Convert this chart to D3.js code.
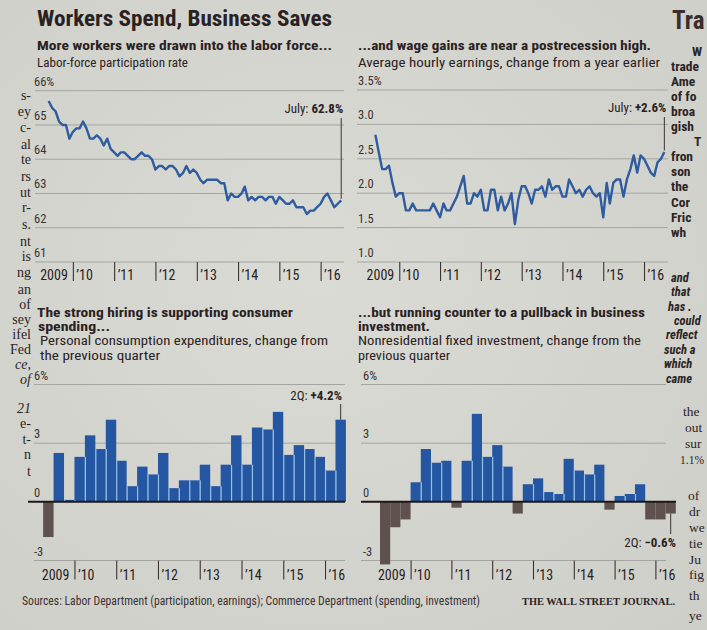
<!DOCTYPE html>
<html><head><meta charset="utf-8">
<script src="https://cdn.jsdelivr.net/npm/d3@7"></script>
<style>
html,body{margin:0;padding:0;background:#d6d6d1;}
svg{display:block;}
</style></head><body>
<svg id="chart" width="707" height="630"></svg>
<script>
// Labor-force participation rate (%), monthly from June 2009 to July 2016
const participation = [
  65.7, 65.5, 65.4, 65.1, 65.0, 65.0, 64.6,
  64.8, 64.9, 64.9, 65.1, 64.9, 64.6, 64.6, 64.7, 64.6, 64.4, 64.6, 64.3,
  64.2, 64.1, 64.2, 64.2, 64.1, 64.0, 64.0, 64.1, 64.2, 64.1, 64.1, 64.0,
  63.7, 63.8, 63.8, 63.7, 63.8, 63.8, 63.7, 63.5, 63.6, 63.8, 63.6, 63.7,
  63.6, 63.4, 63.3, 63.4, 63.4, 63.4, 63.4, 63.3, 63.3, 62.8, 63.0, 62.9,
  62.9, 63.0, 63.2, 62.8, 62.9, 62.8, 62.9, 62.9, 62.8, 62.9, 62.9, 62.7,
  62.9, 62.8, 62.7, 62.7, 62.8, 62.6, 62.6, 62.6, 62.4, 62.5, 62.5, 62.6,
  62.7, 62.9, 63.0, 62.8, 62.6, 62.7, 62.8
];
// Average hourly earnings, % change from a year earlier, June 2009 to July 2016
const earnings = [
  2.85, 2.6, 2.35, 2.35, 2.4, 2.15, 1.95,
  2.0, 2.0, 1.75, 1.75, 1.85, 1.75, 1.75, 1.75, 1.75, 1.75, 1.85, 1.75,
  1.65, 1.85, 1.75, 1.75, 1.85, 1.95, 2.1, 2.25, 1.85, 1.85, 2.0, 1.95,
  2.05, 1.75, 1.75, 2.05, 2.05, 1.75, 1.95, 1.75, 1.85, 2.0, 1.55, 1.9,
  2.1, 2.1, 2.0, 1.85, 2.05, 2.05, 2.1, 1.95, 2.2, 2.05, 2.1, 2.1,
  1.95, 1.95, 2.2, 2.1, 2.0, 2.05, 1.95, 2.05, 2.1, 2.0, 1.95, 2.0,
  1.65, 2.15, 1.85, 2.15, 2.2, 2.2, 1.95, 2.2, 2.35, 2.55, 2.3, 2.55,
  2.5, 2.4, 2.3, 2.25, 2.45, 2.5, 2.6
];
const firstMonth = [2009, 5]; // June 2009

// Quarterly % change from the previous quarter, 2Q 2009 to 2Q 2016
const consumption = [
  -1.8, 2.5, 0.1,
  2.3, 3.4, 2.7, 4.2,
  2.1, 0.8, 1.8, 1.4,
  2.5, 0.7, 1.1, 1.1,
  1.9, 0.8, 1.9, 3.4,
  1.9, 3.8, 3.7, 4.6,
  2.4, 2.9, 2.7, 2.3,
  1.6, 4.2
];
const investment = [
  -3.2, -1.3, -0.9,
  1.0, 2.7, 2.0, 2.1,
  -0.3, 2.1, 4.5, 2.3,
  2.9, 1.8, -0.6, 0.9,
  1.2, 0.5, 0.4, 2.2,
  1.6, 1.4, 1.9, -0.4,
  0.3, 0.4, 0.9, -0.9,
  -0.9, -0.6
];
const firstQuarter = [2009, 2];

const years = [2009, 2010, 2011, 2012, 2013, 2014, 2015, 2016];
const yearLabels = ["2009", "’10", "’11", "’12", "’13", "’14", "’15", "’16"];
const participationTicks = [61, 62, 63, 64, 65, 66];
const participationTickLabels = ["61", "62", "63", "64", "65", "66%"];
const earningsTicks = [1.0, 1.5, 2.0, 2.5, 3.0, 3.5];
const earningsTickLabels = ["1.0", "1.5", "2.0", "2.5", "3.0", "3.5%"];
const quarterTicks = [-3, 0, 3, 6];
const quarterTickLabels = ["-3", "0", "3", "6%"];

const INK = "#2a2222";
const GRID = "#a4a4a0";
const BLUE = "#2e5c9f";
const BAR = "#2556a1";
const BAR_EDGE = "#93c2e8";
const NEG = "#5f514d";
const SANS = "'Liberation Sans Narrow','Roboto Condensed','Open Sans',Roboto,sans-serif";
const SERIF = "'Liberation Serif','DejaVu Serif',serif";

const svg = d3.select("#chart");

// paper
const defs = svg.append("defs");
const paper = defs.append("radialGradient").attr("id", "paper").attr("cx", "45%").attr("cy", "45%").attr("r", "75%");
paper.append("stop").attr("offset", "0%").attr("stop-color", "#dbdbd6");
paper.append("stop").attr("offset", "100%").attr("stop-color", "#cfcfca");
svg.append("rect").attr("width", 707).attr("height", 630).attr("fill", "url(#paper)");

function txt(parent, x, y, parts, o = {}) {
  const t = parent.append("text").attr("x", x).attr("y", y)
    .attr("font-family", o.family || SANS).attr("font-size", o.size || 13)
    .attr("fill", o.fill || INK).attr("text-anchor", o.anchor || "start");
  if (o.weight) t.attr("font-weight", o.weight);
  if (o.style) t.attr("font-style", o.style);
  if (o.width) t.attr("textLength", o.width).attr("lengthAdjust", "spacingAndGlyphs");
  (Array.isArray(parts) ? parts : [[parts]]).forEach(([s, w]) =>
    t.append("tspan").attr("font-weight", w || null).text(s));
  return t;
}

// ---------- headings ----------
txt(svg, 37, 26, "Workers Spend, Business Saves", { size: 22, weight: "bold", width: 295 });
txt(svg, 37, 50, "More workers were drawn into the labor force...", { size: 13, weight: "bold", width: 295 });
txt(svg, 37, 67, "Labor-force participation rate", { size: 13, width: 151 });
txt(svg, 358, 50, "...and wage gains are near a postrecession high.", { size: 13, weight: "bold", width: 293 });
txt(svg, 358, 67, "Average hourly earnings, change from a year earlier", { size: 13, width: 302 });

txt(svg, 37, 317, "The strong hiring is supporting consumer", { size: 12.5, weight: "bold", width: 256 });
txt(svg, 38, 331, "spending...", { size: 12.5, weight: "bold", width: 72 });
txt(svg, 40, 345, "Personal consumption expenditures, change from", { size: 12.5, width: 288 });
txt(svg, 40, 360, "the previous quarter", { size: 12.5, width: 120 });
txt(svg, 358, 317, "...but running counter to a pullback in business", { size: 12.5, weight: "bold", width: 287 });
txt(svg, 358, 331, "investment.", { size: 12.5, weight: "bold", width: 72 });
txt(svg, 358, 345, "Nonresidential fixed investment, change from the", { size: 12.5, width: 283 });
txt(svg, 358, 360, "previous quarter", { size: 12.5, width: 92 });

// ---------- monthly line panels ----------
function linePanel(o) {
  const g = svg.append("g");
  const x = d3.scaleTime().domain([new Date(2009, 0, 1), new Date(2017, 0, 1)]).range(o.xRange);
  const y = d3.scaleLinear().domain(o.domain).range(o.yRange);
  const base = y(o.domain[0]);

  g.selectAll("line.grid").data(o.ticks).join("line").attr("class", "grid")
    .attr("x1", o.gridX[0]).attr("x2", o.gridX[1])
    .attr("y1", d => y(d)).attr("y2", d => y(d))
    .attr("stroke", GRID).attr("stroke-width", 1);
  g.selectAll("text.ytick").data(o.ticks).join("text").attr("class", "ytick")
    .attr("x", o.labelX).attr("y", d => y(d) - 5)
    .attr("font-family", SANS).attr("font-size", 12.5).attr("fill", "#3a3333")
    .text((d, i) => o.tickLabels[i]);

  // year ticks along the bottom
  const yearDates = years.slice(1).map(yr => new Date(yr, 0, 1));
  const axis = d3.axisBottom(x).tickValues(yearDates).tickSize(19)
    .tickFormat((d, i) => yearLabels[i + 1]);
  const ag = g.append("g").attr("transform", `translate(0,${base})`).call(axis);
  ag.select(".domain").remove();
  ag.selectAll(".tick line").attr("stroke", "#3a3333").attr("stroke-width", 1.1);
  ag.selectAll(".tick text").attr("text-anchor", "start").attr("x", 3).attr("y", 17.5).attr("dy", null)
    .attr("font-family", SANS).attr("font-size", 14).attr("fill", INK);
  txt(g, x(yearDates[0]) - 5, base + 17.5, yearLabels[0], { size: 14, anchor: "end" });

  const pts = o.values.map((v, i) => ({ date: new Date(firstMonth[0], firstMonth[1] + i, 1), v }));
  g.append("path").datum(pts)
    .attr("d", d3.line().x(d => x(d.date)).y(d => y(d.v)))
    .attr("fill", "none").attr("stroke", BLUE).attr("stroke-width", 2.4)
    .attr("stroke-linejoin", "round");

  const last = pts[pts.length - 1];
  g.append("line").attr("x1", x(last.date)).attr("x2", x(last.date))
    .attr("y1", o.noteY + 5).attr("y2", y(last.v) - 1.5)
    .attr("stroke", "#3a3333").attr("stroke-width", 1);
  txt(g, x(last.date) + 2, o.noteY, [[o.note[0]], [o.note[1], "bold"]], { size: 13, anchor: "end" });
}

linePanel({
  values: participation, domain: [61, 66], yRange: [262, 90.7], xRange: [31.6, 362],
  ticks: participationTicks, tickLabels: participationTickLabels,
  gridX: [35, 344], labelX: 34, noteY: 113, note: ["July: ", "62.8%"]
});
linePanel({
  values: earnings, domain: [1.0, 3.5], yRange: [262, 90], xRange: [358.5, 684.9],
  ticks: earningsTicks, tickLabels: earningsTickLabels,
  gridX: [357, 668], labelX: 358, noteY: 112, note: ["July: ", "+2.6%"]
});

// ---------- quarterly bar panels ----------
function barPanel(o) {
  const g = svg.append("g");
  const keys = [];
  years.forEach(yr => [1, 2, 3, 4].forEach(q => keys.push(yr + "Q" + q)));
  const x = d3.scaleBand().domain(keys).range(o.xRange).padding(0);
  const y = d3.scaleLinear().domain([-3, 6]).range([560.5, 384.5]);
  const bw = x.bandwidth();

  const data = o.values.map((v, i) => {
    const n = firstQuarter[1] - 1 + i;
    return { key: (firstQuarter[0] + Math.floor(n / 4)) + "Q" + (n % 4 + 1), v };
  });

  g.selectAll("line.grid").data(quarterTicks.filter(d => d !== 0)).join("line").attr("class", "grid")
    .attr("x1", o.gridX[0]).attr("x2", o.gridX[1])
    .attr("y1", d => y(d)).attr("y2", d => y(d))
    .attr("stroke", GRID).attr("stroke-width", 1);
  g.selectAll("text.ytick").data(quarterTicks).join("text").attr("class", "ytick")
    .attr("x", o.labelX).attr("y", d => y(d) - 5)
    .attr("font-family", SANS).attr("font-size", 12.5).attr("fill", "#3a3333")
    .text((d, i) => quarterTickLabels[i]);

  g.selectAll("rect.bar").data(data).join("rect").attr("class", "bar")
    .attr("x", d => x(d.key)).attr("width", bw)
    .attr("y", d => y(Math.max(0, d.v))).attr("height", d => Math.abs(y(d.v) - y(0)))
    .attr("fill", d => d.v < 0 ? NEG : BAR);

  // light seams between neighbouring blue bars
  const seams = [];
  for (let i = 1; i < data.length; i++) {
    const a = data[i - 1], b = data[i];
    if (a.v > 0 && b.v > 0) seams.push({ key: b.key, h: Math.min(a.v, b.v) });
  }
  g.selectAll("line.seam").data(seams).join("line").attr("class", "seam")
    .attr("x1", d => x(d.key) + 0.5).attr("x2", d => x(d.key) + 0.5)
    .attr("y1", y(0)).attr("y2", d => y(d.h))
    .attr("stroke", BAR_EDGE).attr("stroke-width", 1.2);

  g.append("line").attr("x1", o.zeroX[0]).attr("x2", o.zeroX[1])
    .attr("y1", y(0)).attr("y2", y(0)).attr("stroke", "#1c1818").attr("stroke-width", 2);

  const yearKeys = years.slice(1).map(yr => yr + "Q1");
  const axis = d3.axisBottom(d3.scaleLinear().domain([0, 1]).range([0, 1]))
    .tickValues(yearKeys.map(k => x(k))).tickSize(19)
    .tickFormat((d, i) => yearLabels[i + 1]);
  const ag = g.append("g").attr("transform", `translate(0,${y(-3)})`).call(axis);
  ag.select(".domain").remove();
  ag.selectAll(".tick line").attr("stroke", "#3a3333").attr("stroke-width", 1.1);
  ag.selectAll(".tick text").attr("text-anchor", "start").attr("x", 3).attr("y", 19.5).attr("dy", null)
    .attr("font-family", SANS).attr("font-size", 14).attr("fill", INK);
  txt(g, x(yearKeys[0]) - 5, y(-3) + 19.5, yearLabels[0], { size: 14, anchor: "end" });

  const last = data[data.length - 1];
  const cx = x(last.key) + bw / 2;
  if (last.v >= 0) {
    g.append("line").attr("x1", cx).attr("x2", cx).attr("y1", o.noteY + 4).attr("y2", y(last.v))
      .attr("stroke", "#3a3333").attr("stroke-width", 1);
  } else {
    g.append("line").attr("x1", cx).attr("x2", cx).attr("y1", y(last.v)).attr("y2", o.noteY - 13)
      .attr("stroke", "#3a3333").attr("stroke-width", 1);
  }
  txt(g, o.noteX, o.noteY, [[o.note[0]], [o.note[1], "bold"]], { size: 13, anchor: "end" });
}

barPanel({
  values: consumption, xRange: [32.7, 32.7 + 32 * 10.44],
  gridX: [34, 345], zeroX: [28, 345], labelX: 34,
  noteX: 342, noteY: 400, note: ["2Q: ", "+4.2%"]
});
barPanel({
  values: investment, xRange: [369.8, 369.8 + 32 * 10.2],
  gridX: [361, 666], zeroX: [361, 676], labelX: 363,
  noteX: 676, noteY: 547, note: ["2Q: ", "−0.6%"]
});

// ---------- credits ----------
txt(svg, 22, 605, "Sources: Labor Department (participation, earnings); Commerce Department (spending, investment)",
  { size: 12, width: 458, fill: "#3a3232" });
txt(svg, 522, 605, "THE WALL STREET JOURNAL.", { size: 10.5, family: SERIF, weight: "bold", width: 153, fill: "#2a2222" });

// ---------- neighbouring newspaper columns ----------
const leftColumn = [
  ["s-", 100], ["ey", 116], ["c-", 132], ["al", 149], ["te", 164], ["rs", 181], ["ut", 197],
  ["r-", 212], ["s.", 229], ["nt", 246], ["is", 261], ["ng", 277], ["an", 294], ["of", 309],
  ["sey", 324], ["ifel", 339], ["Fed", 354], ["ce,", 369, "italic"], ["of", 384, "italic"],
  ["21", 413, "italic"], ["e-", 428], ["t-", 444], ["n", 459], ["t", 476]
];
const lc = svg.append("g");
leftColumn.forEach(([s, yy, st]) =>
  txt(lc, 31, yy, s, { size: 14, family: SERIF, anchor: "end", style: st || null, fill: "#2b2424" }));

const rc = svg.append("g");
txt(rc, 672, 29, "Tra", { size: 25, weight: "bold", fill: "#3a2d2b" });
const rightSans = [
  ["W", 692, 56], ["trade", 671, 71], ["Ame", 671, 86], ["of fo", 671, 101], ["broa", 671, 116],
  ["gish", 671, 131], ["T", 694, 146], ["fron", 671, 161], ["son", 671, 176], ["the", 671, 191],
  ["Cor", 671, 207], ["Fric", 671, 222], ["wh", 671, 237]
];
rightSans.forEach(([s, xx, yy]) => txt(rc, xx, yy, s, { size: 13.5, weight: "bold", fill: "#2b2424" }));
const rightItalic = [
  ["and", 671, 282], ["that", 671, 296], ["has .", 668, 311], ["could", 674, 325],
  ["reflect", 666, 339], ["such a", 664, 354], ["which", 664, 368], ["came", 666, 383]
];
rightItalic.forEach(([s, xx, yy]) => txt(rc, xx, yy, s, { size: 12.5, weight: "bold", style: "italic", fill: "#2b2424" }));
const rightSerif = [
  ["the", 683, 416], ["out", 685, 432], ["sur", 685, 448], ["1.1%", 680, 464],
  ["of", 688, 500], ["dr", 689, 516], ["we", 689, 532], ["tie", 689, 548], ["Ju", 689, 564],
  ["fig", 689, 579], ["th", 689, 600], ["ye", 689, 620]
];
rightSerif.forEach(([s, xx, yy]) =>
  txt(rc, xx, yy, s, { size: s === "1.1%" ? 11.5 : 13.5, family: SERIF, fill: "#2b2424" }));
</script>
</body></html>
